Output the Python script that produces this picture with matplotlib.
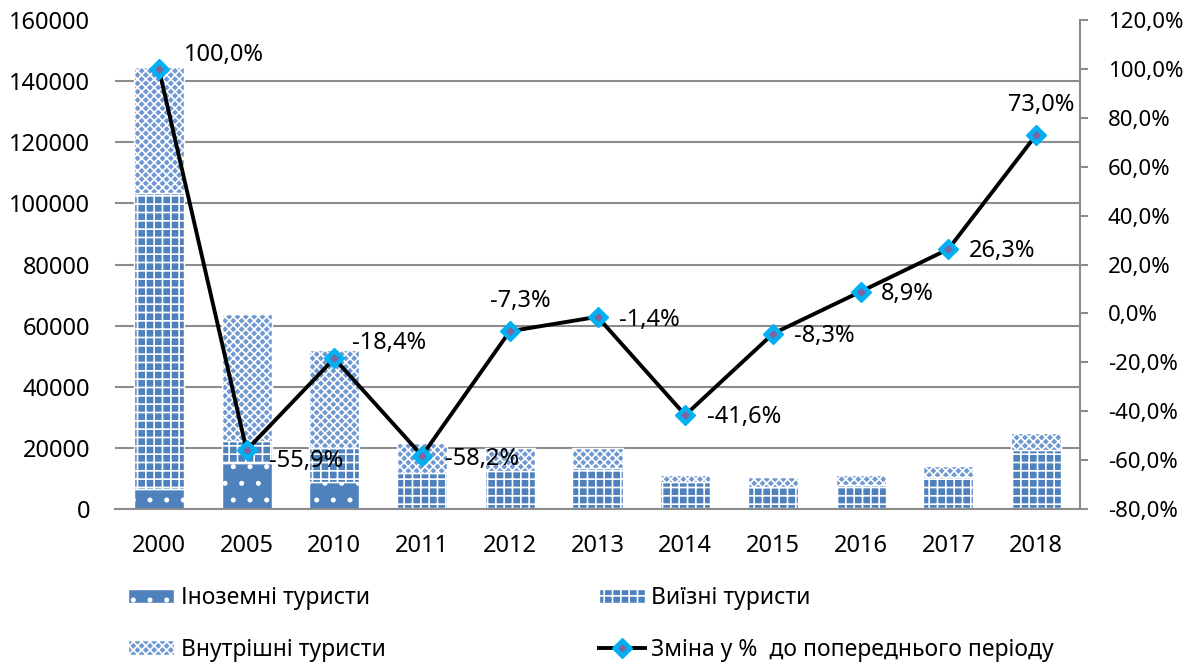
import numpy as np
import matplotlib.pyplot as plt
from matplotlib.ticker import FuncFormatter

plt.rcParams['font.family'] = ['Noto Sans', 'DejaVu Sans']
plt.rcParams['hatch.linewidth'] = 1.2

years = ['2000', '2005', '2010', '2011', '2012', '2013', '2014', '2015', '2016', '2017', '2018']
foreign = [6500, 15000, 8800, 300, 300, 300, 200, 200, 200, 200, 300]
outbound = [97000, 7200, 11100, 11500, 12100, 13100, 8700, 7000, 7600, 10200, 19000]
domestic = [41200, 41500, 32000, 9700, 7500, 6500, 2200, 3200, 3300, 3700, 5500]
change = [100.0, -55.9, -18.4, -58.2, -7.3, -1.4, -41.6, -8.3, 8.9, 26.3, 73.0]
label_offsets = [(25, 14), (22, -11), (18, 15), (23, -3), (-20, 30), (22, -3),
                 (22, -2), (21, -2), (20, -2), (20, -2), (-28, 30)]

blue = '#4F81BD'
fs = 17
fig = plt.figure(figsize=(11.9, 6.62), dpi=100)
ax = fig.add_axes([115/1190, 1-509/662, 965/1190, 489/662])
ax2 = ax.twinx()

x = np.arange(len(years))
w = 0.57
foreign = np.array(foreign)
outbound = np.array(outbound)
domestic = np.array(domestic)

b1 = ax.bar(x, foreign, w, color=blue, edgecolor='white', hatch='.', linewidth=1, zorder=2)
b2 = ax.bar(x, outbound, w, bottom=foreign, color=blue, edgecolor='white', hatch='++',
            linewidth=1, zorder=2)
b3 = ax.bar(x, domestic, w, bottom=foreign+outbound, color='#7099D2', edgecolor='white',
            hatch='xxxx', linewidth=1, zorder=2)

ax.set_ylim(0, 160000)
ax.set_yticks(np.arange(0, 160001, 20000))
ax.set_xlim(-0.5, len(years)-0.5)
ax.set_xticks(x)
ax.set_xticklabels(years)
ax.grid(axis='y', color='#8c8c8c', linewidth=1.5, zorder=0)
ax.get_ygridlines()[-1].set_visible(False)
ax.set_axisbelow(True)
ax.tick_params(axis='x', length=0, pad=18, labelsize=fs)
ax.tick_params(axis='y', length=0, pad=18, labelsize=fs)
for s in ['top', 'left', 'right']:
    ax.spines[s].set_visible(False)
ax.spines['bottom'].set_color('#8c8c8c')
ax.spines['bottom'].set_linewidth(1.5)

ln, = ax2.plot(x, change, color='black', lw=2.8, marker='D', markersize=10,
               markerfacecolor='#00B0F0', markeredgecolor='#00B0F0', zorder=5)
dots, = ax2.plot(x, change, ls='none', marker='D', markersize=3.5, color='#8064A2', zorder=6)
ax2.set_ylim(-80, 120)
ax2.set_yticks(np.arange(-80, 121, 20))
ax2.yaxis.set_major_formatter(FuncFormatter(lambda v, p: f'{v:.1f}%'.replace('.', ',')))
ax2.tick_params(axis='y', length=6, width=1.5, color='#8c8c8c', pad=14, labelsize=16)
for s in ['top', 'left', 'bottom']:
    ax2.spines[s].set_visible(False)
ax2.spines['right'].set_color('#8c8c8c')
ax2.spines['right'].set_linewidth(1.5)

for xi, v, (dx, dy) in zip(x, change, label_offsets):
    ax2.annotate(f'{v:.1f}%'.replace('.', ','), (xi, v), xytext=(dx, dy), textcoords='offset pixels',
                 ha='left', va='center', fontsize=fs, zorder=7)

fig.legend([b1, b3, b2, (ln, dots)],
           ['Іноземні туристи', 'Внутрішні туристи', 'Виїзні туристи',
            'Зміна у %  до попереднього періоду'],
           ncol=2, loc='upper left', bbox_to_anchor=(128/1190, 1-586/662), frameon=False,
           fontsize=16.5, handlelength=2.0, handleheight=0.6, handletextpad=0.3,
           labelspacing=1.2, columnspacing=9.3, borderpad=0, borderaxespad=0)

fig.savefig('out.png', dpi=100)
